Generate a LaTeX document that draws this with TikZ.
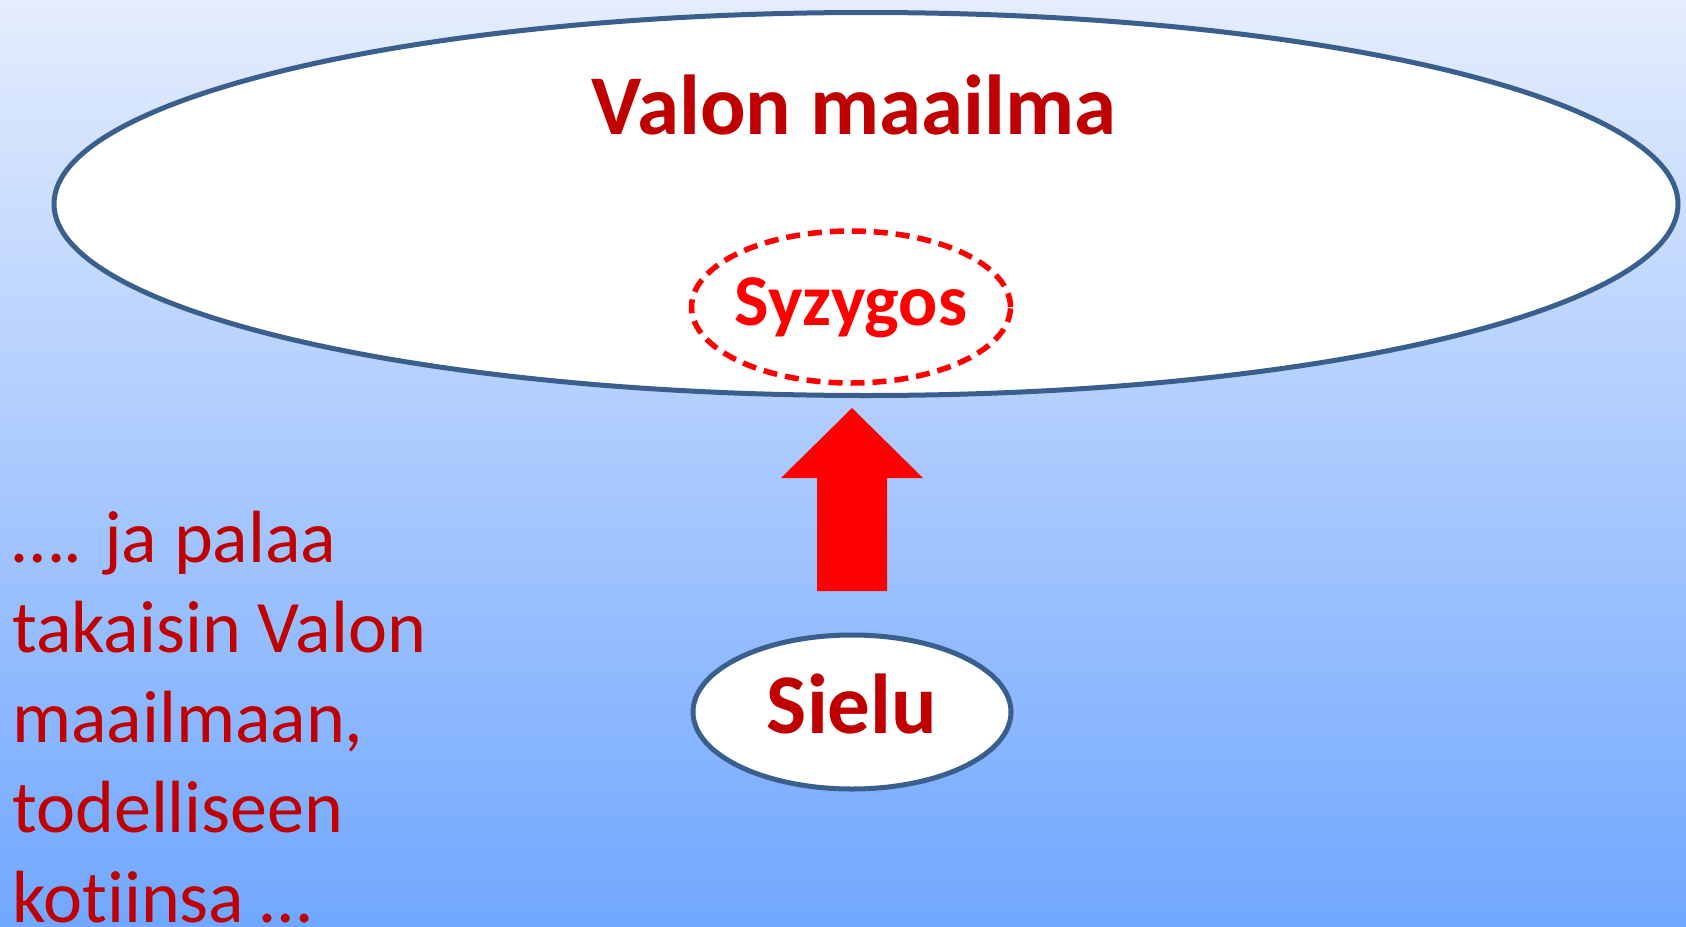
\documentclass[tikz,border=0pt]{standalone}
\usepackage{fontspec}
\setmainfont[Ligatures=NoCommon]{Carlito}
\usetikzlibrary{shapes.geometric}
\definecolor{bgtop}{RGB}{228,237,253}
\definecolor{bgbot}{RGB}{112,167,255}
\definecolor{rim}{RGB}{58,95,140}
\definecolor{darkred}{RGB}{192,0,0}
\tikzset{
  world/.style={ellipse, draw=rim, line width=5pt, fill=white, inner sep=0pt},
  partner/.style={ellipse, draw=red, line width=5.5pt, dash pattern=on 14pt off 8pt, inner sep=0pt},
  bigtitle/.style={font=\bfseries\fontsize{85}{96}\selectfont, text=darkred, anchor=base},
}
\begin{document}
\begin{tikzpicture}[x=1pt,y=-1pt]
\useasboundingbox (0,0) rectangle (1686,926);
\shade[top color=bgtop, bottom color=bgbot] (0,0) rectangle (1686,926);
\node[world, minimum width=1624pt, minimum height=383pt] (valo) at (866,204) {};
\node[bigtitle] (valotxt) at (854,134) {Valon maailma};
\node[partner, minimum width=319pt, minimum height=152pt] (syz) at (851,307) {};
\node[font=\bfseries\fontsize{73}{80}\selectfont, text=red, anchor=base] (syztxt) at (851,325) {Syzygos};
\node[world, minimum width=318pt, minimum height=154pt] (sielu) at (852,712) {};
\node[bigtitle] (sielutxt) at (852,733) {Sielu};
\coordinate (tip) at (852,408);
\fill[red] (tip) -- (923,478) -- (887,478) -- (887,591) -- (817,591) -- (817,478) -- (781,478) -- cycle;
\node[anchor=base west, align=left, inner sep=0pt, text=darkred, font=\fontsize{74}{90}\selectfont] (story) at (12,922)
 {…. ja palaa\\takaisin Valon\\maailmaan,\\todelliseen\\kotiinsa …};
\end{tikzpicture}
\end{document}
